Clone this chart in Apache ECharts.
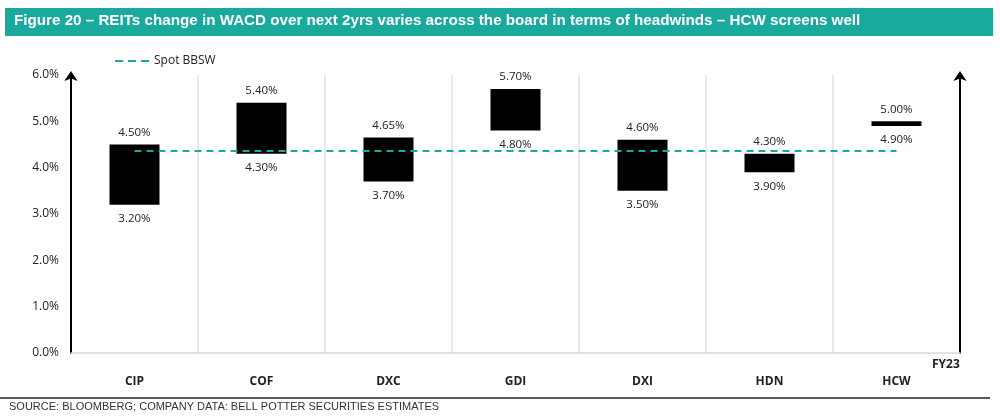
<!DOCTYPE html>
<html>
<head>
<meta charset="utf-8">
<script src="https://cdn.jsdelivr.net/npm/echarts@6/dist/echarts.min.js"></script>
<style>
  html, body { margin: 0; padding: 0; background: #fff; }
  #chart { width: 1000px; height: 418px; }
</style>
</head>
<body>
<div id="chart"></div>
<script>
const categories = ['CIP', 'COF', 'DXC', 'GDI', 'DXI', 'HDN', 'HCW']
const lowValues = [3.20, 4.30, 3.70, 4.80, 3.50, 3.90, 4.90]
const highValues = [4.50, 5.40, 4.65, 5.70, 4.60, 4.30, 5.00]
const spotBBSW = [4.36, 4.36, 4.36, 4.36, 4.36, 4.36, 4.36]
const yTicks = [0, 1, 2, 3, 4, 5, 6]

const teal = '#1aa99d'
const chart = echarts.init(document.getElementById('chart'))

const option = {
  animation: false,
  textStyle: { fontFamily: 'Open Sans, sans-serif' },
  graphic: [
    {
      type: 'rect',
      shape: { x: 5, y: 8, width: 988, height: 28 },
      style: { fill: teal }
    },
    {
      type: 'text',
      left: 14, top: 13,
      style: {
        text: 'Figure 20 – REITs change in WACD over next 2yrs varies across the board in terms of headwinds – HCW screens well',
        fill: '#fff',
        font: 'bold 15.2px "Liberation Sans", Arial, sans-serif'
      }
    },
    {
      type: 'text',
      left: 932, top: 359,
      style: { text: 'FY23', fill: '#222', font: 'bold 12px "Open Sans", sans-serif' }
    },
    {
      type: 'line',
      shape: { x1: 0, y1: 398, x2: 990, y2: 398 },
      style: { stroke: '#222', lineWidth: 1.5 }
    },
    {
      type: 'text',
      left: 9, top: 401,
      style: {
        text: 'SOURCE: BLOOMBERG; COMPANY DATA: BELL POTTER SECURITIES ESTIMATES',
        fill: '#333',
        font: '11px "Liberation Sans", Arial, sans-serif'
      }
    }
  ],
  legend: {
    data: [{ name: 'Spot BBSW', icon: 'path://M0,0 H8 V2 H0 Z M13,0 H21 V2 H13 Z M26,0 H34 V2 H26 Z' }],
    left: 110, top: 50,
    itemWidth: 34, itemHeight: 3,
    itemGap: 4,
    textStyle: { fontSize: 12, color: '#222' }
  },
  grid: { left: 71, right: 40, top: 75, bottom: 65 },
  xAxis: {
    type: 'category',
    data: categories,
    axisLine: { lineStyle: { color: '#d9d9d9', width: 1.5 } },
    axisTick: { show: false },
    axisLabel: { margin: 23, fontWeight: 'bold', fontSize: 12, color: '#222' },
    splitLine: { show: true, lineStyle: { color: '#e2e2e2', width: 1.5 } }
  },
  yAxis: [
    {
      type: 'value',
      min: 0, max: 6, interval: 1,
      axisLine: { show: true, symbol: ['none', 'arrow'], symbolSize: [10, 10], symbolOffset: [0, 4], lineStyle: { color: '#000', width: 2 } },
      axisTick: { show: false },
      splitLine: { show: false },
      axisLabel: {
        margin: 12, fontSize: 12, color: '#222',
        formatter: v => yTicks.includes(v) ? v.toFixed(1) + '%' : ''
      }
    },
    {
      type: 'value',
      position: 'right',
      min: 0, max: 6, interval: 1,
      axisLine: { show: true, symbol: ['none', 'arrow'], symbolSize: [10, 10], symbolOffset: [0, 4], lineStyle: { color: '#000', width: 2 } },
      axisTick: { show: false },
      splitLine: { show: false },
      axisLabel: { show: false }
    }
  ],
  series: [
    {
      name: 'low',
      type: 'bar',
      stack: 'range',
      barWidth: 50,
      data: lowValues,
      itemStyle: { color: 'transparent' },
      label: {
        show: true, position: 'insideTop', distance: 8,
        fontSize: 11.5, color: '#222',
        formatter: p => lowValues[p.dataIndex].toFixed(2) + '%'
      },
      silent: true
    },
    {
      name: 'range',
      type: 'bar',
      stack: 'range',
      barWidth: 50,
      data: highValues.map((h, i) => +(h - lowValues[i]).toFixed(2)),
      itemStyle: { color: '#000' },
      label: {
        show: true, position: 'top', distance: 6,
        fontSize: 11.5, color: '#222',
        formatter: p => highValues[p.dataIndex].toFixed(2) + '%'
      }
    },
    {
      name: 'Spot BBSW',
      type: 'line',
      data: spotBBSW,
      symbol: 'none',
      z: 5,
      itemStyle: { color: teal },
      lineStyle: { color: teal, width: 2, type: [7, 5] }
    }
  ]
}

chart.setOption(option)
</script>
</body>
</html>
